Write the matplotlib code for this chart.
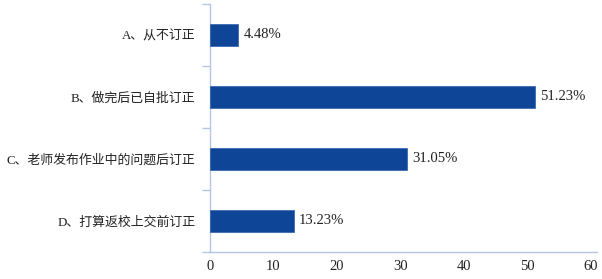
import matplotlib
matplotlib.use("Agg")
import matplotlib.pyplot as plt
import numpy as np

categories = ["A、从不订正", "B、做完后已自批订正", "C、老师发布作业中的问题后订正", "D、打算返校上交前订正"]
values = [4.48, 51.23, 31.05, 13.23]
xticks = [0, 10, 20, 30, 40, 50, 60]

FONT = ["Liberation Serif", "Noto Sans CJK SC", "DejaVu Sans"]
plt.rcParams["font.family"] = FONT

BAR = "#0E4596"
SPINE = "#B4C6E2"
TXT = "#222222"

fig = plt.figure(figsize=(6.02, 2.79), dpi=100)
ax = fig.add_axes([210 / 602, 27 / 279, 387 / 602, 248 / 279])

y = np.arange(len(categories))
ax.barh(y, values, height=0.37, color=BAR, edgecolor="#2F5FAE", linewidth=0.5, zorder=3)
for yi, v in zip(y, values):
    ax.text(v + 0.8, yi, f"{v:.2f}%", va="center", ha="left", fontsize=10.5, color=TXT)

ax.set_ylim(len(categories) - 0.5, -0.5)
ax.set_xlim(0, 61)
ax.set_xticks(xticks)
ax.set_xticklabels([str(t) for t in xticks], fontsize=10.5)
ax.set_yticks(y)
ax.set_yticklabels(categories, fontsize=9.3, color=TXT)
ax.set_yticks(np.arange(-0.5, len(categories)), minor=True)

ax.tick_params(axis="y", which="major", length=0, pad=10.5)
ax.tick_params(axis="y", which="minor", length=6, width=1, color=SPINE, direction="out")
ax.tick_params(axis="x", length=0, pad=6, labelcolor=TXT)

for s in ["top", "right"]:
    ax.spines[s].set_visible(False)
for s in ["left", "bottom"]:
    ax.spines[s].set_color(SPINE)
    ax.spines[s].set_linewidth(1)

fig.savefig("out.png", dpi=100)
